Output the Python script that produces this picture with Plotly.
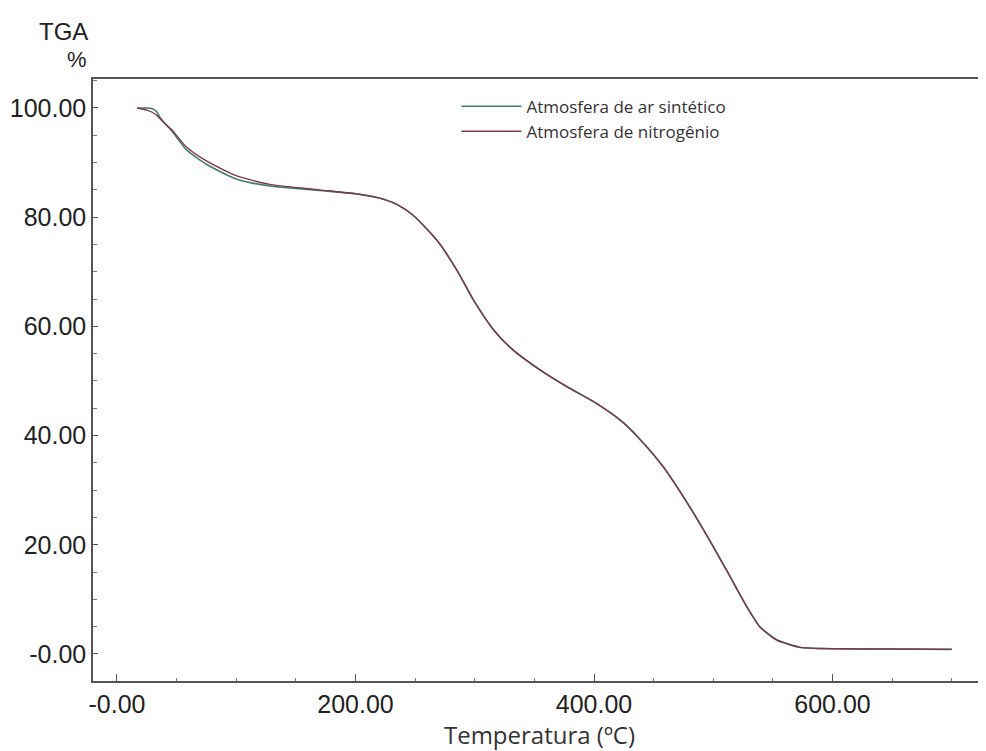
import plotly.graph_objects as go

# Temperature (ºC) and mass (%)
temp_air = [17, 24, 29, 33, 36, 40, 46, 58, 75, 100, 128, 170, 200, 220, 235, 248, 260, 270, 285, 299,
            316, 332, 355, 377, 402, 425, 444, 458, 472, 492, 511, 528, 539, 553, 573, 590, 650, 700]
mass_air = [100.0, 100.0, 99.9, 99.4, 98.3, 97.2, 95.8, 92.4, 89.7, 87.0, 85.7, 84.9, 84.3, 83.5, 82.3,
            80.4, 77.8, 75.3, 70.3, 64.8, 59.3, 55.7, 52.0, 49.0, 45.9, 42.3, 38.0, 34.3, 29.8, 22.7,
            15.4, 8.7, 5.0, 2.6, 1.2, 1.0, 0.9, 0.85]

temp_n2 = [17, 25, 32, 38, 46, 58, 75, 100, 128, 170, 200, 220, 235, 248, 260, 270, 285, 299,
           316, 332, 355, 377, 402, 425, 444, 458, 472, 492, 511, 528, 539, 553, 573, 590, 650, 700]
mass_n2 = [100.0, 99.6, 98.9, 97.6, 96.0, 92.9, 90.3, 87.6, 86.0, 85.0, 84.3, 83.5, 82.3, 80.4, 77.8,
           75.3, 70.3, 64.8, 59.3, 55.7, 52.0, 49.0, 45.9, 42.3, 38.0, 34.3, 29.8, 22.7, 15.4, 8.7,
           5.0, 2.6, 1.2, 1.0, 0.9, 0.85]

series_names = ["Atmosfera de ar sintético", "Atmosfera de nitrogênio"]

x_tickvals = [0, 200, 400, 600]
x_ticktext = ["-0.00", "200.00", "400.00", "600.00"]
y_tickvals = [0, 20, 40, 60, 80, 100]
y_ticktext = ["-0.00", "20.00", "40.00", "60.00", "80.00", "100.00"]

fig = go.Figure()
fig.add_trace(go.Scatter(x=temp_air, y=mass_air, mode="lines", name=series_names[0],
                         line=dict(color="#3f7a74", width=1.6, shape="spline", smoothing=0.6)))
fig.add_trace(go.Scatter(x=temp_n2, y=mass_n2, mode="lines", name=series_names[1],
                         line=dict(color="#7b3a44", width=1.4, shape="spline", smoothing=0.6)))

axis_font = dict(family="Liberation Sans, Arial, sans-serif", size=25, color="#222")

fig.update_layout(
    width=978, height=743,
    margin=dict(l=85, r=0, t=71, b=70, autoexpand=False),
    paper_bgcolor="white", plot_bgcolor="white",
    showlegend=True,
    legend=dict(x=0.407, y=0.984, xanchor="left", yanchor="top",
                font=dict(family="Open Sans, sans-serif", size=17, color="#333"),
                bgcolor="rgba(0,0,0,0)", tracegroupgap=0, itemwidth=60),
    xaxis=dict(range=[-20.1, 728.7], tickvals=x_tickvals, ticktext=x_ticktext, automargin=False,
               showgrid=False, zeroline=False, showline=True, linecolor="#555", linewidth=1.5,
               mirror=True, ticks="inside", ticklen=7, tickcolor="#555",
               minor=dict(dtick=50, ticks="inside", ticklen=3, tickcolor="#777"),
               tickfont=axis_font,
               title=dict(text="Temperatura (ºC)", font=dict(family="Open Sans, sans-serif", size=24, color="#333"),
                          standoff=2)),
    yaxis=dict(range=[-4.95, 105.31], tickvals=y_tickvals, ticktext=y_ticktext, automargin=False,
               showgrid=False, zeroline=False, showline=True, linecolor="#555", linewidth=1.5,
               ticks="inside", ticklen=5, tickcolor="#555",
               minor=dict(dtick=5, ticks="inside", ticklen=4, tickcolor="#777"),
               tickfont=axis_font),
    annotations=[
        dict(text="TGA", xref="paper", yref="paper", x=0, y=1, xanchor="right", yanchor="bottom",
             xshift=-3, yshift=32, showarrow=False, font=dict(family="Liberation Sans, Arial", size=24, color="#222")),
        dict(text="%", xref="paper", yref="paper", x=0, y=1, xanchor="right", yanchor="bottom",
             xshift=-4, yshift=5, showarrow=False, font=dict(family="Liberation Sans, Arial", size=22, color="#222")),
    ],
)

fig.write_html("out.html")
